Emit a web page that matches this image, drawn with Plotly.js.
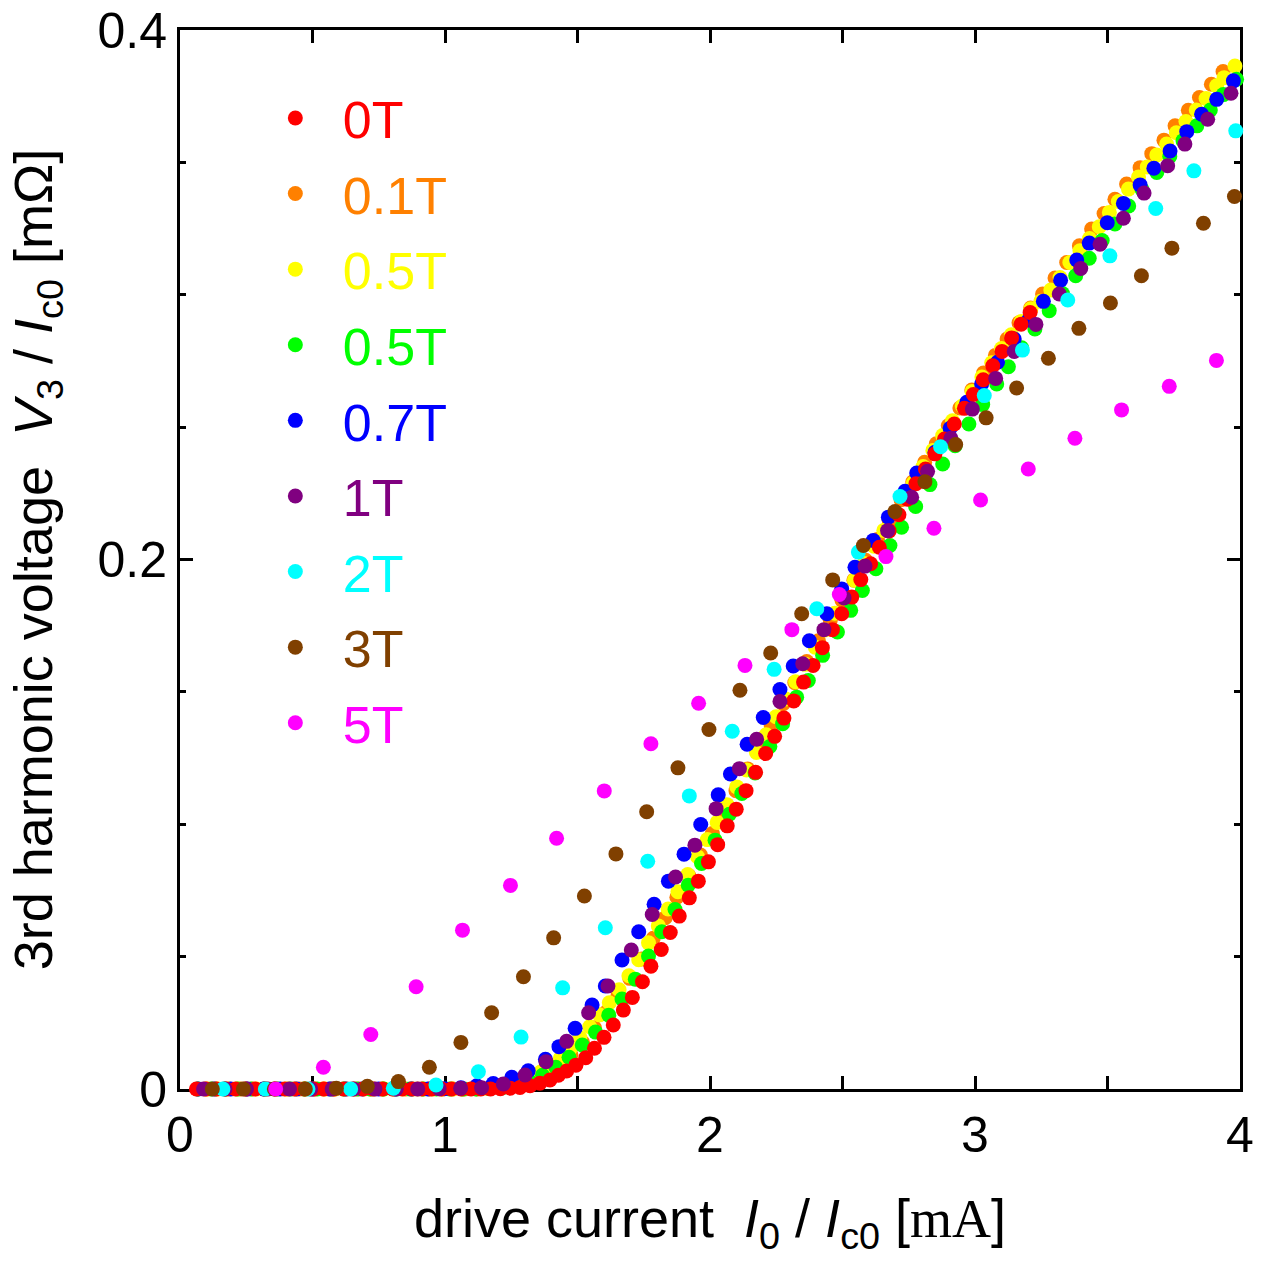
<!DOCTYPE html>
<html>
<head>
<meta charset="utf-8">
<script src="https://cdn.plot.ly/plotly-3.0.1.min.js"></script>
<style>html,body{margin:0;padding:0;background:#fff;}</style>
</head>
<body>
<div id="chart" style="width:1265px;height:1261px;"></div>
<script>
// Series labels and colours (legend order)
const fieldLabels = ['0T', '0.1T', '0.5T', '0.5T', '0.7T', '1T', '2T', '3T', '5T'];
const fieldColors = ['#ff0000', '#ff8000', '#ffff00', '#00ff00', '#0000ff', '#800080', '#00ffff', '#804000', '#ff00ff'];

// Data: [I0/Ic0, V3/Ic0] pairs per field
const s0T = [[0.062,0],[0.099,0],[0.136,0],[0.173,0],[0.210,0],[0.247,0],[0.284,0],[0.321,0],[0.358,0],[0.395,0],[0.432,0],[0.469,0],[0.506,0],[0.543,0],[0.580,0],[0.617,0],[0.654,0],[0.691,0],[0.728,0],[0.765,0],[0.802,0],[0.839,0],[0.876,0],[0.913,0],[0.950,0],[0.987,0],[1.024,0],[1.061,0],[1.098,0],[1.135,0],[1.172,0],[1.209,0.0001],[1.246,0.0003],[1.283,0.0006],[1.321,0.0012],[1.358,0.0022],[1.396,0.0034],[1.428,0.0052],[1.459,0.0068],[1.494,0.009],[1.531,0.0118],[1.564,0.0154],[1.600,0.0195],[1.635,0.0242],[1.673,0.0298],[1.707,0.0346],[1.745,0.0405],[1.777,0.0464],[1.816,0.0527],[1.850,0.0591],[1.884,0.0653],[1.922,0.0722],[1.956,0.0785],[1.994,0.0858],[2.029,0.0923],[2.065,0.0994],[2.099,0.1057],[2.136,0.1127],[2.172,0.1196],[2.210,0.1267],[2.244,0.1332],[2.279,0.1401],[2.316,0.1466],[2.353,0.1537],[2.389,0.1600],[2.424,0.1667],[2.462,0.1735],[2.497,0.1795],[2.535,0.1858],[2.569,0.1924],[2.606,0.1984],[2.639,0.2046],[2.676,0.2108],[2.713,0.2169],[2.745,0.2228],[2.777,0.2286],[2.813,0.2342],[2.849,0.2399],[2.885,0.2455],[2.922,0.2512],[2.960,0.2571],[2.994,0.2623],[3.031,0.2679],[3.067,0.2732],[3.102,0.2786],[3.138,0.2837],[3.174,0.2889],[3.208,0.2933]];

const s01T = [[0.095,0],[0.14,0],[0.184,0],[0.229,0],[0.273,0],[0.318,0],[0.362,0],[0.407,0],[0.451,0],[0.496,0],[0.54,0],[0.585,0],[0.629,0],[0.674,0],[0.718,0],[0.763,0],[0.807,0],[0.852,0],[0.896,0],[0.941,0],[0.985,0],[1.03,0],[1.074,0],[1.119,0],[1.163,0.0002],[1.208,0.0005],[1.252,0.0012],[1.297,0.0024],[1.341,0.0039],[1.386,0.0064],[1.43,0.0092],[1.475,0.0129],[1.519,0.0176],[1.564,0.0231],[1.608,0.029],[1.653,0.0353],[1.697,0.0418],[1.742,0.0491],[1.786,0.0569],[1.831,0.0647],[1.875,0.0724],[1.92,0.0805],[1.964,0.0884],[2.009,0.0965],[2.053,0.1046],[2.098,0.1127],[2.142,0.1209],[2.187,0.129],[2.231,0.1372],[2.276,0.1455],[2.32,0.1535],[2.365,0.1615],[2.409,0.1693],[2.454,0.1771],[2.498,0.1846],[2.543,0.1922],[2.587,0.1997],[2.632,0.2076],[2.676,0.2147],[2.721,0.2226],[2.765,0.2293],[2.81,0.2367],[2.854,0.2437],[2.899,0.2505],[2.943,0.2572],[2.988,0.264],[3.032,0.2704],[3.077,0.2771],[3.121,0.2833],[3.166,0.2894],[3.21,0.295],[3.255,0.3003],[3.302,0.3063],[3.346,0.3122],[3.394,0.3185],[3.44,0.3248],[3.487,0.3307],[3.528,0.3361],[3.572,0.3418],[3.623,0.348],[3.667,0.3533],[3.713,0.3584],[3.755,0.3638],[3.805,0.3697],[3.847,0.3745],[3.892,0.3795],[3.936,0.3843]];

const s05Ta = [[0.066,0],[0.103,0],[0.14,0],[0.177,0],[0.214,0],[0.251,0],[0.288,0],[0.325,0],[0.362,0],[0.399,0],[0.436,0],[0.473,0],[0.51,0],[0.547,0],[0.584,0],[0.621,0],[0.658,0],[0.695,0],[0.732,0],[0.769,0],[0.806,0],[0.843,0],[0.88,0],[0.917,0],[0.954,0],[0.991,0],[1.028,0],[1.065,0],[1.102,0.0001],[1.139,0.0002],[1.176,0.0004],[1.213,0.0009],[1.25,0.0018],[1.287,0.0028],[1.324,0.0044],[1.361,0.0064],[1.398,0.0087],[1.435,0.0116],[1.472,0.0152],[1.509,0.0194],[1.546,0.0235],[1.583,0.028],[1.62,0.0326],[1.657,0.0375],[1.694,0.0428],[1.731,0.0488],[1.768,0.0552],[1.805,0.0616],[1.842,0.068],[1.879,0.0745],[1.916,0.081],[1.953,0.0877],[1.99,0.0942],[2.027,0.1007],[2.064,0.1074],[2.101,0.1141],[2.138,0.1205],[2.175,0.1271],[2.212,0.1338],[2.249,0.1406],[2.286,0.1473],[2.323,0.1538],[2.36,0.1604],[2.397,0.1669],[2.434,0.1734],[2.471,0.1797],[2.508,0.186],[2.545,0.1922],[2.582,0.1985],[2.619,0.205],[2.656,0.211],[2.693,0.2172],[2.73,0.2237],[2.767,0.2289],[2.804,0.2351],[2.841,0.2412],[2.878,0.2468],[2.915,0.2524],[2.952,0.258],[2.989,0.2635],[3.026,0.2689],[3.063,0.2743],[3.1,0.2797],[3.137,0.2849],[3.174,0.2899],[3.211,0.2947],[3.248,0.2975],[3.286,0.3018],[3.321,0.3065],[3.358,0.3122],[3.396,0.3166],[3.432,0.3212],[3.469,0.3257],[3.507,0.3311],[3.541,0.3352],[3.579,0.3399],[3.617,0.3445],[3.65,0.3483],[3.686,0.3528],[3.723,0.3569],[3.76,0.3612],[3.796,0.3654],[3.835,0.3698],[3.872,0.3741],[3.912,0.3789],[3.94,0.382],[3.981,0.3864]];

const s05Tb = [[0.068,0],[0.118,0],[0.168,0],[0.218,0],[0.268,0],[0.318,0],[0.368,0],[0.418,0],[0.468,0],[0.518,0],[0.568,0],[0.618,0],[0.668,0],[0.718,0],[0.768,0],[0.818,0],[0.868,0],[0.918,0],[0.968,0],[1.018,0],[1.068,0],[1.118,0],[1.168,0.0002],[1.218,0.0006],[1.268,0.0015],[1.318,0.003],[1.368,0.0052],[1.418,0.0082],[1.468,0.012],[1.518,0.0166],[1.568,0.0215],[1.618,0.0279],[1.668,0.034],[1.718,0.0415],[1.768,0.0502],[1.818,0.0594],[1.868,0.0678],[1.918,0.077],[1.968,0.0852],[2.019,0.094],[2.073,0.1038],[2.12,0.1116],[2.17,0.1194],[2.226,0.1294],[2.274,0.138],[2.327,0.148],[2.371,0.1543],[2.425,0.1638],[2.481,0.1726],[2.531,0.1808],[2.575,0.1883],[2.626,0.1965],[2.679,0.2053],[2.723,0.2122],[2.776,0.22],[2.83,0.2283],[2.878,0.2361],[2.925,0.243],[2.977,0.2512],[3.029,0.2585],[3.082,0.2663],[3.126,0.2728],[3.176,0.28],[3.226,0.2871],[3.28,0.294],[3.33,0.3005],[3.38,0.3072],[3.431,0.3138],[3.48,0.3205],[3.528,0.3267],[3.58,0.3335],[3.63,0.3398],[3.686,0.3462],[3.735,0.3522],[3.785,0.3582],[3.837,0.3638],[3.888,0.3698],[3.937,0.3756],[3.987,0.3814]];

const s07T = [[0.068,0],[0.13,0],[0.192,0],[0.254,0],[0.316,0],[0.378,0],[0.44,0],[0.502,0],[0.564,0],[0.626,0],[0.688,0],[0.75,0],[0.812,0],[0.874,0],[0.936,0],[0.998,0.0001],[1.06,0.0005],[1.12,0.0012],[1.182,0.0021],[1.252,0.0044],[1.314,0.0069],[1.379,0.0112],[1.43,0.016],[1.491,0.0229],[1.555,0.0317],[1.605,0.0389],[1.668,0.0487],[1.731,0.0594],[1.789,0.0698],[1.843,0.0785],[1.902,0.0887],[1.965,0.0999],[2.031,0.1111],[2.077,0.119],[2.14,0.1302],[2.201,0.1403],[2.264,0.1509],[2.314,0.1598],[2.375,0.1693],[2.441,0.1795],[2.497,0.1889],[2.547,0.1971],[2.616,0.2072],[2.673,0.216],[2.736,0.2258],[2.78,0.2327],[2.849,0.2405],[2.906,0.2496],[2.969,0.2594],[3.025,0.2663],[3.085,0.2745],[3.148,0.2833],[3.203,0.2905],[3.258,0.2975],[3.323,0.3055],[3.384,0.3131],[3.431,0.3195],[3.499,0.3272],[3.56,0.3345],[3.623,0.3415],[3.675,0.3478],[3.736,0.3543],[3.799,0.3616],[3.855,0.3682],[3.912,0.3738],[3.975,0.3808]];

const s1T = [[0.089,0],[0.17,0],[0.251,0],[0.332,0],[0.413,0],[0.493,0],[0.574,0],[0.655,0],[0.736,0],[0.816,0],[0.897,0],[0.978,0.0001],[1.059,0.0003],[1.138,0.0005],[1.22,0.0019],[1.302,0.0053],[1.381,0.0103],[1.459,0.018],[1.542,0.0288],[1.615,0.0389],[1.703,0.0525],[1.782,0.0659],[1.87,0.0801],[1.943,0.0921],[2.023,0.1059],[2.111,0.121],[2.176,0.1321],[2.264,0.1464],[2.35,0.1606],[2.43,0.1735],[2.506,0.1855],[2.585,0.1975],[2.67,0.2109],[2.761,0.2235],[2.821,0.2333],[2.909,0.2458],[2.99,0.2568],[3.078,0.2684],[3.148,0.2786],[3.23,0.2888],[3.318,0.3003],[3.399,0.3099],[3.472,0.3191],[3.56,0.3289],[3.638,0.3384],[3.727,0.3487],[3.792,0.3569],[3.878,0.3663],[3.966,0.3761]];

const s2T = [[0.162,0],[0.322,0],[0.483,0],[0.644,0],[0.805,0.0003],[0.966,0.0015],[1.126,0.0065],[1.287,0.0196],[1.444,0.0382],[1.605,0.0609],[1.765,0.086],[1.922,0.1107],[2.084,0.1351],[2.242,0.1585],[2.403,0.1814],[2.56,0.2028],[2.717,0.2238],[2.87,0.2426],[3.035,0.2619],[3.179,0.2791],[3.35,0.298],[3.509,0.3147],[3.682,0.3326],[3.826,0.3468],[3.984,0.3619]];

const s3T = [[0.122,0],[0.239,0],[0.356,0],[0.473,0],[0.59,0.0003],[0.707,0.001],[0.824,0.0028],[0.941,0.0082],[1.06,0.0176],[1.176,0.0288],[1.296,0.0424],[1.41,0.0571],[1.526,0.0729],[1.645,0.0888],[1.761,0.1047],[1.879,0.1213],[1.996,0.1358],[2.113,0.1506],[2.229,0.1647],[2.346,0.1795],[2.463,0.1923],[2.579,0.2053],[2.698,0.2181],[2.811,0.2294],[2.927,0.2434],[3.042,0.2535],[3.157,0.2648],[3.277,0.276],[3.392,0.2873],[3.511,0.2969],[3.628,0.3072],[3.743,0.3176],[3.862,0.327],[3.979,0.3371]];

const s5T = [[0.361,0],[0.541,0.0082],[0.72,0.0206],[0.891,0.0386],[1.066,0.06],[1.247,0.0769],[1.421,0.0947],[1.601,0.1126],[1.777,0.1304],[1.957,0.1457],[2.132,0.16],[2.309,0.1735],[2.488,0.1868],[2.664,0.2011],[2.845,0.2118],[3.021,0.2225],[3.201,0.2342],[3.377,0.2458],[3.553,0.2565],[3.733,0.2654],[3.911,0.2752]];

const seriesData = [s0T, s01T, s05Ta, s05Tb, s07T, s1T, s2T, s3T, s5T];

// Axis ticks
const xTickVals = [0, 1, 2, 3, 4];
const xTickText = ['0', '1', '2', '3', '4'];
const yTickVals = [0, 0.2, 0.4];
const yTickText = ['0', '0.2', '0.4'];
const yLongUnlabelled = [0.1, 0.3];

// drawing order (bottom -> top), legend order kept with legendrank
const drawOrder = [1, 2, 3, 4, 0, 5, 6, 7, 8];

const SANS = 'Liberation Sans, Arial, Helvetica, sans-serif';
const SERIF = 'Liberation Serif, Times New Roman, serif';

const traces = drawOrder.map(function (i) {
  const d = seriesData[i];
  return {
    type: 'scatter',
    mode: 'markers',
    x: d.map(p => p[0]),
    y: d.map(p => p[1]),
    name: '<span style="color:' + fieldColors[i] + '">' + fieldLabels[i] + '</span>',
    legendrank: i + 1,
    legendgroup: 'g' + i,
    cliponaxis: false,
    marker: { color: fieldColors[i], size: 15, line: { width: 0 } },
    hoverinfo: 'x+y'
  };
});

const NB = '\u00a0';
const layout = {
  width: 1265,
  height: 1261,
  margin: { l: 180, r: 25, t: 30, b: 172 },
  paper_bgcolor: '#ffffff',
  plot_bgcolor: '#ffffff',
  font: { family: SANS, color: '#000000', size: 50 },
  showlegend: true,
  legend: {
    x: 0.064, y: 0.955, xanchor: 'left', yanchor: 'top',
    bgcolor: 'rgba(0,0,0,0)', borderwidth: 0,
    font: { family: SANS, size: 52 },
    traceorder: 'grouped',
    tracegroupgap: 5,
    itemsizing: 'trace',
    itemwidth: 85
  },
  xaxis: {
    range: [0, 4],
    tickmode: 'array', tickvals: xTickVals, ticktext: xTickText,
    ticks: 'inside', ticklen: 13, tickwidth: 3, tickcolor: '#000',
    minor: { dtick: 0.5, ticks: 'inside', ticklen: 13, tickwidth: 3, tickcolor: '#000', showgrid: false },
    showline: true, linewidth: 3, linecolor: '#000', mirror: 'ticks',
    showgrid: false, zeroline: false,
    layer: 'below traces',
    tickfont: { family: SANS, size: 50 },
    title: {
      text: 'drive current' + NB + NB + '<i>I</i><sub>0</sub> / <i>I</i><sub>c0</sub> [<span style="font-family:' + SERIF + '">mA</span>]',
      font: { family: SANS, size: 54 },
      standoff: 38
    }
  },
  yaxis: {
    range: [0, 0.4],
    tickmode: 'array', tickvals: yTickVals, ticktext: yTickText,
    ticks: 'inside', ticklen: 13, tickwidth: 3, tickcolor: '#000',
    minor: { dtick: 0.05, ticks: 'inside', ticklen: 6, tickwidth: 3, tickcolor: '#000', showgrid: false },
    showline: true, linewidth: 3, linecolor: '#000', mirror: 'ticks',
    showgrid: false, zeroline: false,
    layer: 'below traces',
    tickfont: { family: SANS, size: 50 },
    title: {
      text: '3rd harmonic voltage' + NB + NB + '<i>V</i><sub>3</sub> / <i>I</i><sub>c0</sub> [mΩ]',
      font: { family: SANS, size: 54 },
      standoff: 28
    }
  },
  yaxis2: {
    overlaying: 'y', side: 'left', anchor: 'x',
    range: [0, 0.4],
    tickmode: 'array', tickvals: yLongUnlabelled,
    showticklabels: false,
    ticks: 'inside', ticklen: 13, tickwidth: 3, tickcolor: '#000',
    showline: false, mirror: 'ticks',
    showgrid: false, zeroline: false,
    layer: 'below traces'
  }
};

Plotly.newPlot('chart', traces, layout, { displayModeBar: false, staticPlot: true });
</script>
</body>
</html>
